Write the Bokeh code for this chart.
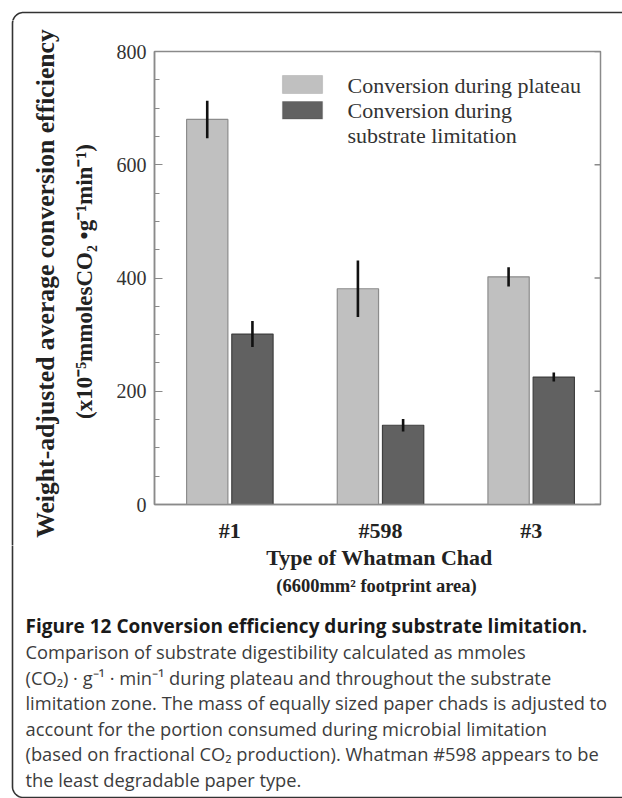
import math
from bokeh.plotting import figure
from bokeh.layouts import column, row
from bokeh.models import (Label, BoxAnnotation, LinearAxis, FixedTicker, Range1d,
                          ColumnDataSource)
from bokeh.core.properties import value
from bokeh.embed import file_html
from bokeh.resources import INLINE

# ---- data ----
chads = ["#1", "#598", "#3"]
group_pos = [1, 2, 3]
plateau = [680, 381, 402]
plateau_err = [33, 50, 17]
limitation = [301, 140, 225]
limitation_err = [23, 11, 8]
series_names = ["Conversion during plateau", "Conversion during", "substrate limitation"]
y_ticks = [0, 200, 400, 600, 800]
y_title = ["Weight-adjusted average conversion efficiency",
           "(x10\u207b\u2075mmolesCO\u2082 \u2022g\u207b\u00b9min\u207b\u00b9)"]
x_title = ["Type of Whatman Chad", "(6600mm\u00b2 footprint area)"]
caption_title = "Figure 12 Conversion efficiency during substrate limitation."
caption_lines = [
    "Comparison of substrate digestibility calculated as mmoles",
    "(CO\u2082) \u00b7 g\u207b\u00b9 \u00b7 min\u207b\u00b9 during plateau and throughout the substrate",
    "limitation zone. The mass of equally sized paper chads is adjusted to",
    "account for the portion consumed during microbial limitation",
    "(based on fractional CO\u2082 production). Whatman #598 appears to be",
    "the least degradable paper type.",
]

SERIF = "Liberation Serif"
SANS = "Open Sans"
LIGHT = "#c0c0c0"
DARK = "#616161"
BOXC = "#333333"
AXC = "#8a8a8a"

PW, PH = 622, 798
TOP_H = 20          # strip above the chart
LEFT_W = 113        # strip left of the chart
CH_BOT = 545        # page y where the chart block ends
FRAME_L, FRAME_R, FRAME_T, FRAME_B = 150, 600, 51, 508
X0, X1 = 0.5, 3.46


def canvas(w, h, x0, y0):
    """A figure whose frame fills the canvas; ranges are page pixels."""
    f = figure(width=w, height=h, output_backend="svg", toolbar_location=None,
               x_range=Range1d(x0, x0 + w), y_range=Range1d(y0 + h, y0),
               min_border=0, x_axis_location=None, y_axis_location=None)
    f.xgrid.visible = False
    f.ygrid.visible = False
    f.outline_line_color = None
    f.background_fill_color = None
    f.border_fill_color = None
    return f


def arc_pts(cx, cy, r, a0, a1, n=16):
    xs, ys = [], []
    for i in range(n + 1):
        a = math.radians(a0 + (a1 - a0) * i / n)
        xs.append(cx + r * math.cos(a))
        ys.append(cy + r * math.sin(a))
    return xs, ys

BX, BY_T, BY_B, RAD = 12, 12, 797, 11

# outline path of the rounded box (top-left part and bottom-left part), page pixels
ax_, ay_ = arc_pts(BX + RAD, BY_T + RAD, RAD, 180, 270)
top_path_x = [BX] + ax_ + [PW + 5]
top_path_y = [CH_BOT + 5] + ay_ + [BY_T]
bx_, by_ = arc_pts(BX + RAD, BY_B - RAD, RAD, 180, 90)
bot_path_x = [BX, BX] + bx_ + [PW + 5]
bot_path_y = [CH_BOT - 5, BY_B - RAD] + by_ + [BY_B]

# ---- top strip ----
top = canvas(PW, TOP_H, 0, 0)
top.line(top_path_x, top_path_y, line_color=BOXC, line_width=1.6)

# ---- left strip: y-axis title ----
left = canvas(LEFT_W, CH_BOT - TOP_H, 0, TOP_H)
left.line(top_path_x, top_path_y, line_color=BOXC, line_width=1.6)
left.text(x=[45], y=[283], text=[y_title[0]], angle=math.pi / 2,
          text_font=value(SERIF), text_font_style="bold", text_font_size="25.7px",
          text_color="#222222", text_align="center", text_baseline="middle")
left.text(x=[84], y=[281], text=[y_title[1]], angle=math.pi / 2,
          text_font=value(SERIF), text_font_style="bold", text_font_size="23px",
          text_color="#222222", text_align="center", text_baseline="middle")

# ---- chart ----
p = figure(width=PW - LEFT_W, height=CH_BOT - TOP_H, output_backend="svg", toolbar_location=None,
           x_range=Range1d(X0, X1), y_range=Range1d(0, 800),
           min_border_left=FRAME_L - LEFT_W, min_border_right=PW - FRAME_R,
           min_border_top=FRAME_T - TOP_H, min_border_bottom=CH_BOT - FRAME_B,
           x_axis_location=None, y_axis_location=None)
p.xgrid.visible = False
p.ygrid.visible = False
p.outline_line_color = AXC
p.outline_line_width = 1.5
p.background_fill_color = "white"
p.border_fill_color = None

off = 0.15
bw = 0.274
src_l = ColumnDataSource(dict(x=[g - off for g in group_pos], top=plateau,
                              lo=[v - e for v, e in zip(plateau, plateau_err)],
                              hi=[v + e for v, e in zip(plateau, plateau_err)]))
src_d = ColumnDataSource(dict(x=[g + off for g in group_pos], top=limitation,
                              lo=[v - e for v, e in zip(limitation, limitation_err)],
                              hi=[v + e for v, e in zip(limitation, limitation_err)]))
p.vbar(x="x", top="top", bottom=0, width=bw, source=src_l,
       fill_color=LIGHT, line_color="#8c8c8c", line_width=1.2)
p.vbar(x="x", top="top", bottom=0, width=bw, source=src_d,
       fill_color=DARK, line_color="#3f3f3f", line_width=1.2)
p.segment(x0="x", y0="lo", x1="x", y1="hi", source=src_l, line_color="#111111", line_width=2.6)
p.segment(x0="x", y0="lo", x1="x", y1="hi", source=src_d, line_color="#111111", line_width=2.6)

ya = LinearAxis(ticker=FixedTicker(ticks=y_ticks, minor_ticks=list(range(0, 801, 50))))
ya.axis_line_color = AXC
ya.axis_line_width = 1.5
ya.major_tick_line_color = AXC
ya.minor_tick_line_color = AXC
ya.major_tick_in = 8
ya.major_tick_out = 0
ya.minor_tick_in = 5
ya.minor_tick_out = 0
ya.major_label_standoff = 8
ya.major_label_text_font = SERIF
ya.major_label_text_font_size = "20px"
ya.major_label_text_color = "#333333"
p.add_layout(ya, "left")

# inward ticks on the right edge of the frame (no labels there)
tick_len = 6 * (X1 - X0) / (FRAME_R - FRAME_L)
p.segment(x0=[X1 - tick_len] * len(y_ticks), y0=y_ticks, x1=[X1] * len(y_ticks), y1=y_ticks,
          line_color=AXC, line_width=1.5)

xa = LinearAxis(ticker=FixedTicker(ticks=group_pos))
xa.major_label_overrides = {g: c for g, c in zip(group_pos, chads)}
xa.axis_line_color = AXC
xa.axis_line_width = 1.5
xa.major_tick_line_color = None
xa.minor_tick_line_color = None
xa.major_label_standoff = 7
xa.major_label_text_font = SERIF
xa.major_label_text_font_style = "bold"
xa.major_label_text_font_size = "22px"
xa.major_label_text_color = "#222222"
p.add_layout(xa, "below")

# legend (frame-relative screen units: page (px, py) -> (px-150, 508-py))
def fx(px):
    return px - FRAME_L
def fy(py):
    return FRAME_B - py

for (t, b), col, lc in [((79, 97), LIGHT, "#8c8c8c"), ((105, 122.5), DARK, "#3f3f3f")]:
    p.add_layout(BoxAnnotation(left=fx(278), right=fx(318), top=fy(t), bottom=fy(b),
                               left_units="screen", right_units="screen",
                               top_units="screen", bottom_units="screen",
                               fill_color=col, fill_alpha=1, line_color=lc, line_width=1.2))
for i, t in enumerate(series_names):
    p.add_layout(Label(x=fx(343), y=fy(89 + 25 * i), x_units="screen", y_units="screen",
                       text=t, text_font=SERIF, text_font_size="22px",
                       text_color="#333333", text_align="left", text_baseline="middle"))

# ---- bottom block: x title + caption ----
bot = canvas(PW, PH - CH_BOT, 0, CH_BOT)
bot.line(bot_path_x, bot_path_y, line_color=BOXC, line_width=1.6)
bot.text(x=[379], y=[557], text=[x_title[0]], text_font=value(SERIF), text_font_style="bold",
         text_font_size="22px", text_color="#222222", text_align="center", text_baseline="middle")
bot.text(x=[376], y=[585], text=[x_title[1]], text_font=value(SERIF), text_font_style="bold",
         text_font_size="18.5px", text_color="#222222", text_align="center", text_baseline="middle")
bot.text(x=[25], y=[625], text=[caption_title], text_font=value(SANS), text_font_style="bold",
         text_font_size="19px", text_color="#1a1a1a", text_align="left", text_baseline="middle")
cap_y = [651 + 25.5 * i for i in range(len(caption_lines))]
bot.text(x=[25] * len(caption_lines), y=cap_y, text=caption_lines, text_font=value(SANS),
         text_font_size="18.3px", text_color="#3c3c3c", text_align="left", text_baseline="middle")

layout = column(top, row(column(left), p), bot)
open("out.html", "w").write(file_html(layout, INLINE))
